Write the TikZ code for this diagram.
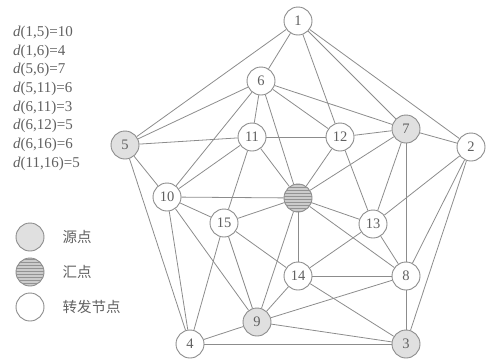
\documentclass[tikz,border=0pt]{standalone}
\usepackage{fontspec}
\setmainfont{Liberation Serif}
\newfontfamily\cjk{Noto Sans CJK SC}
\usetikzlibrary{patterns,positioning}
\definecolor{edgegray}{gray}{0.55}
\definecolor{textgray}{gray}{0.38}
\definecolor{srcgray}{gray}{0.88}
\tikzset{
  vtx/.style={circle, draw=edgegray, line width=0.9pt, fill=white, minimum size=28pt, inner sep=0pt, text=textgray, font=\fontsize{14.5}{14.5}\selectfont},
  src/.style={vtx, fill=srcgray},
  sink/.style={vtx, fill=gray!40, postaction={pattern=horizontal lines, pattern color=gray!85}},
  lnk/.style={draw=edgegray, line width=0.8pt},
  dist/.style={anchor=west, inner sep=0pt, text=textgray, font=\fontsize{15}{15}\selectfont},
  legtxt/.style={inner sep=0pt, text=textgray, font=\cjk\fontsize{14.5}{14.5}\selectfont},
}
\begin{document}
\begin{tikzpicture}[x=1pt, y=-1pt]
			%%%%% START %%%%%
			\useasboundingbox (0,0) rectangle (489,362);
			
			% distances
			\node[dist] (d1) at (13,33) {\textit{d}(1,5)=10};
			\node[dist] (d2) at (13,52) {\textit{d}(1,6)=4};
			\node[dist] (d3) at (13,70) {\textit{d}(5,6)=7};
			\node[dist] (d4) at (13,89) {\textit{d}(5,11)=6};
			\node[dist] (d5) at (13,108) {\textit{d}(6,11)=3};
			\node[dist] (d6) at (13,126) {\textit{d}(6,12)=5};
			\node[dist] (d7) at (13,145) {\textit{d}(6,16)=6};
			\node[dist] (d8) at (13,164) {\textit{d}(11,16)=5};
			
			% legend
			\node[src] (lsrc) at (30,237) {};
			\node[sink] (lsink) at (30,272) {};
			\node[vtx] (lfwd) at (30,307) {};
			\node[legtxt, right=18pt of lsrc] (tsrc) {源点};
			\node[legtxt, right=18pt of lsink] (tsink) {汇点};
			\node[legtxt, right=18pt of lfwd] (tfwd) {转发节点};
			
			% nodes
			\node[vtx] (n1) at (298,21) {1};
			\node[vtx] (n2) at (471,147) {2};
			\node[src] (n3) at (406,344) {3};
			\node[vtx] (n4) at (190,344) {4};
			\node[src] (n5) at (125,145) {5};
			\node[vtx] (n6) at (261,81) {6};
			\node[src] (n7) at (406,129) {7};
			\node[vtx] (n8) at (406,276) {8};
			\node[src] (n9) at (257,322) {9};
			\node[vtx] (n10) at (167,197) {10};
			\node[vtx] (n11) at (252,137) {11};
			\node[vtx] (n12) at (340,137) {12};
			\node[vtx] (n13) at (373,224) {13};
			\node[vtx] (n14) at (298,276) {14};
			\node[vtx] (n15) at (224,223) {15};
			\node[sink] (n16) at (298,198) {};
			
			% links
			\draw[lnk] (n1) -- (n5);
			\draw[lnk] (n1) -- (n6);
			\draw[lnk] (n1) -- (n12);
			\draw[lnk] (n1) -- (n7);
			\draw[lnk] (n1) -- (n2);
			
			\draw[lnk] (n6) -- (n5);
			\draw[lnk] (n6) -- (n10);
			\draw[lnk] (n6) -- (n11);
			\draw[lnk] (n6) -- (n16);
			\draw[lnk] (n6) -- (n12);
			\draw[lnk] (n6) -- (n7);
			
			\draw[lnk] (n5) -- (n11);
			\draw[lnk] (n5) -- (n10);
			\draw[lnk] (n5) -- (n4);
			
			\draw[lnk] (n11) -- (n12);
			\draw[lnk] (n11) -- (n10);
			\draw[lnk] (n11) -- (n15);
			\draw[lnk] (n11) -- (n16);
			
			\draw[lnk] (n12) -- (n7);
			\draw[lnk] (n12) -- (n16);
			\draw[lnk] (n12) -- (n13);
			
			\draw[lnk] (n7) -- (n2);
			\draw[lnk] (n7) -- (n16);
			\draw[lnk] (n7) -- (n13);
			\draw[lnk] (n7) -- (n8);
			
			\draw[lnk] (n2) -- (n13);
			\draw[lnk] (n2) -- (n8);
			\draw[lnk] (n2) -- (n3);
			
			\draw[lnk] (n10) -- (n16);
			\draw[lnk] (n10) -- (n15);
			\draw[lnk] (n10) -- (n9);
			\draw[lnk] (n10) -- (n4);
			
			\draw[lnk] (n16) -- (n15);
			\draw[lnk] (n16) -- (n13);
			\draw[lnk] (n16) -- (n14);
			\draw[lnk] (n16) -- (n9);
			\draw[lnk] (n16) -- (n8);
			
			\draw[lnk] (n15) -- (n14);
			\draw[lnk] (n15) -- (n9);
			\draw[lnk] (n15) -- (n4);
			
			\draw[lnk] (n13) -- (n14);
			\draw[lnk] (n13) -- (n8);
			
			\draw[lnk] (n14) -- (n8);
			\draw[lnk] (n14) -- (n9);
			\draw[lnk] (n14) -- (n3);
			
			\draw[lnk] (n8) -- (n9);
			\draw[lnk] (n8) -- (n3);
			
			\draw[lnk] (n9) -- (n4);
			\draw[lnk] (n9) -- (n3);
			\draw[lnk] (n4) -- (n3);
			
			%%%%% END %%%%%
\end{tikzpicture}
\end{document}
